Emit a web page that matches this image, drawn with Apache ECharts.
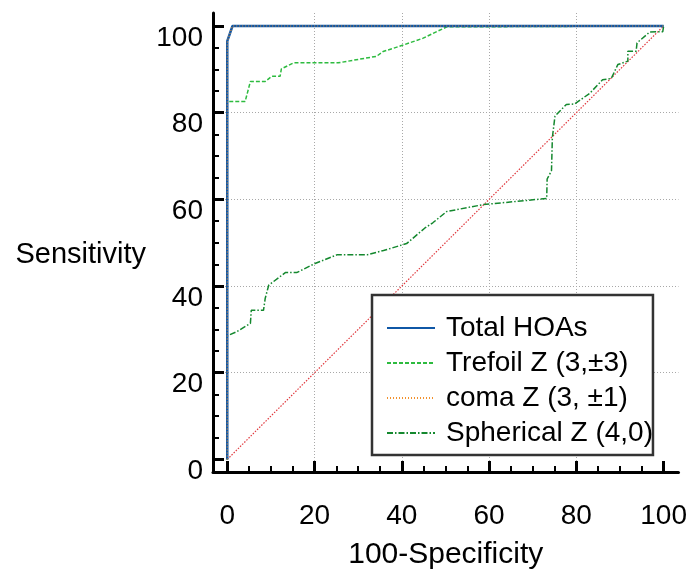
<!DOCTYPE html>
<html>
<head>
<meta charset="utf-8">
<script src="https://cdn.jsdelivr.net/npm/echarts@6/dist/echarts.min.js"></script>
<style>
  html, body { margin: 0; padding: 0; background: #fff; }
  #main { width: 690px; height: 575px; }
</style>
</head>
<body>
<div id="main"></div>
<script>
// ROC curves, values
var majorTicks = [0, 20, 40, 60, 80, 100];
var minorTicks = [0, 5, 10, 15, 20, 25, 30, 35, 40, 45, 50, 55, 60, 65, 70, 75, 80, 85, 90, 95, 100];

var totalHOAs = [[0, 0], [0, 96.5], [1.2, 100], [100, 100]];
var coma = [[0, 0], [0, 96.5], [1.2, 100], [100, 100]];
var trefoil = [
  [0, 0], [0, 82.6], [4.1, 82.6], [5.3, 87.2], [8.7, 87.2], [10.2, 88.4], [12.1, 88.4],
  [12.4, 90.1], [15.2, 91.5], [25.4, 91.5], [34.2, 93.0], [35.7, 94.1], [40.3, 95.6],
  [44.9, 97.2], [48, 98.7], [50.3, 99.8], [50.5, 100], [100, 100]
];
var spherical = [
  [0, 0], [0, 28.5], [2.2, 29.5], [5.3, 31.4], [5.5, 34.4], [8.3, 34.4], [8.7, 37.2],
  [9.5, 40.2], [13.3, 43.1], [15.9, 43.1], [20.1, 45.2], [25.1, 47.2], [32, 47.2],
  [35.8, 48.2], [41.1, 49.8], [45.3, 53.4], [47.1, 54.6], [50.3, 57.2], [58.7, 58.8],
  [73.2, 60.2], [73.3, 64.7], [74.3, 66.6], [74.5, 74.3], [75.1, 79.2], [77.7, 81.9],
  [79.6, 82.0], [83.1, 84.5], [86, 87.6], [88, 87.9], [89.5, 91.1], [91.8, 91.9],
  [91.8, 94.2], [93.7, 94.2], [93.9, 96.1], [96.8, 98.6], [99.8, 98.7], [100, 100]
];
var diagonal = [[0, 0], [100, 100]];

var chart = echarts.init(document.getElementById('main'));
var font = 'Liberation Sans, Arial, sans-serif';

var gridLine = { show: true, lineStyle: { color: '#a8a8a8', width: 1, type: [1, 2] }, showMinLine: false, showMaxLine: false };
var clear = 'rgba(0,0,0,0)';

var option = {
  animation: false,
  backgroundColor: '#fff',
  textStyle: { fontFamily: font },
  grid: { left: 213, right: 11, top: 13, bottom: 101, containLabel: false },
  xAxis: [
    {
      type: 'value', min: -3.27, max: 103.4,
      name: '100-Specificity', nameLocation: 'middle', nameGap: 68,
      nameTextStyle: { fontSize: 30, color: '#000', fontFamily: font },
      axisLine: { show: true, onZero: false, lineStyle: { color: '#000', width: 3 } },
      axisTick: { show: true, inside: true, length: 11, customValues: majorTicks, lineStyle: { color: '#000', width: 3 } },
      axisLabel: { customValues: majorTicks, fontSize: 28, color: '#000', margin: 30, fontFamily: font },
      splitLine: gridLine
    },
    {
      // minor ticks
      type: 'value', min: -3.27, max: 103.4, position: 'bottom',
      axisLine: { show: false, onZero: false },
      axisTick: { show: true, inside: true, length: 6, customValues: minorTicks, lineStyle: { color: '#000', width: 2 } },
      axisLabel: { show: false },
      splitLine: { show: false }
    }
  ],
  yAxis: [
    {
      type: 'value', min: -2.9, max: 103.0,
      name: 'Sensitivity', nameLocation: 'middle', nameRotate: 0, nameGap: 67,
      nameTextStyle: { fontSize: 29, color: '#000', fontFamily: font, align: 'right', verticalAlign: 'top', lineHeight: 24 },
      axisLine: { show: true, onZero: false, lineStyle: { color: '#000', width: 3 } },
      axisTick: { show: true, inside: true, length: 11, customValues: majorTicks, lineStyle: { color: '#000', width: 3 } },
      axisLabel: { customValues: majorTicks, fontSize: 28, color: '#000', margin: 10, verticalAlign: 'top', lineHeight: 24, fontFamily: font },
      splitLine: gridLine
    },
    {
      // minor ticks
      type: 'value', min: -2.9, max: 103.0, position: 'left',
      axisLine: { show: false, onZero: false },
      axisTick: { show: true, inside: true, length: 6, customValues: minorTicks, lineStyle: { color: '#000', width: 2 } },
      axisLabel: { show: false },
      splitLine: { show: false }
    }
  ],
  legend: {
    data: ['Total HOAs', 'Trefoil Z (3,\u00b13)', 'coma Z (3, \u00b11)', 'Spherical Z (4,0)'],
    orient: 'vertical', left: 372, top: 295,
    padding: [19, 0, 8, 14],
    itemWidth: 48, itemHeight: 14, itemGap: 7,
    backgroundColor: '#fff', borderColor: '#333', borderWidth: 2.5, borderRadius: 0,
    itemStyle: { color: clear, borderColor: clear, borderWidth: 0 },
    textStyle: { fontSize: 28, color: '#000', fontFamily: font, padding: [0, 0, 0, 6] }
  },
  series: [
    {
      type: 'line', silent: true, symbol: 'none', data: diagonal,
      lineStyle: { color: '#e0393e', width: 1.2, type: [1.5, 1.5] }, z: 1
    },
    {
      name: 'Total HOAs', type: 'line', symbol: 'none', data: totalHOAs,
      lineStyle: { color: '#0f57a6', width: 2.5, type: 'solid' }, itemStyle: { color: '#0f57a6' }, z: 3
    },
    {
      name: 'Trefoil Z (3,\u00b13)', type: 'line', symbol: 'none', data: trefoil,
      lineStyle: { color: '#2dbb3f', width: 1.5, type: [4, 2] }, itemStyle: { color: '#2dbb3f' }, z: 2
    },
    {
      name: 'coma Z (3, \u00b11)', type: 'line', symbol: 'none', data: coma,
      lineStyle: { color: '#f2912d', width: 1.2, type: [1, 2] }, itemStyle: { color: '#f2912d' }, z: 4
    },
    {
      name: 'Spherical Z (4,0)', type: 'line', symbol: 'none', data: spherical,
      lineStyle: { color: '#14882e', width: 1.5, type: [6, 2, 1.5, 2] }, itemStyle: { color: '#14882e' }, z: 2
    }
  ]
};

chart.setOption(option);
</script>
</body>
</html>
